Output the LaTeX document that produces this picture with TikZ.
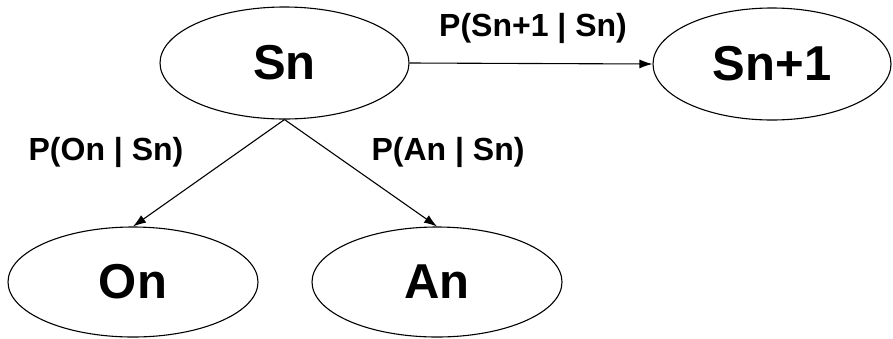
\documentclass[tikz,border=0pt]{standalone}
\usepackage{fontspec}
\setmainfont{Liberation Sans}
\usetikzlibrary{shapes.geometric,arrows.meta}
\begin{document}
\begin{tikzpicture}[x=1pt,y=-1pt,
  state/.style={ellipse,draw,line width=1.1pt,inner sep=0pt,minimum height=112pt,font=\fontsize{49}{51}\selectfont\bfseries},
  lbl/.style={anchor=base,font=\fontsize{32}{34}\selectfont\bfseries},
  conn/.style={line width=1.1pt,-{Latex[length=13pt,width=9pt]}}]
\useasboundingbox (0,0) rectangle (893,338);
\node[state,minimum width=249pt] (sn) at (284.5,63) {Sn};
\node[state,minimum width=238pt] (sn1) at (772,64) {Sn+1};
\node[state,minimum width=250pt,minimum height=110pt] (on) at (133,282) {On};
\node[state,minimum width=250pt,minimum height=110pt] (an) at (437,282) {An};
\draw[conn] (sn.east) -- (sn1.west);
\draw[conn] (sn.south) -- (on.north);
\draw[conn] (sn.south) -- (an.north);
\node[lbl] (l1) at (533,36) {P(Sn+1 | Sn)};
\node[lbl] (l2) at (106,160) {P(On | Sn)};
\node[lbl] (l3) at (448,160) {P(An | Sn)};
\end{tikzpicture}
\end{document}
